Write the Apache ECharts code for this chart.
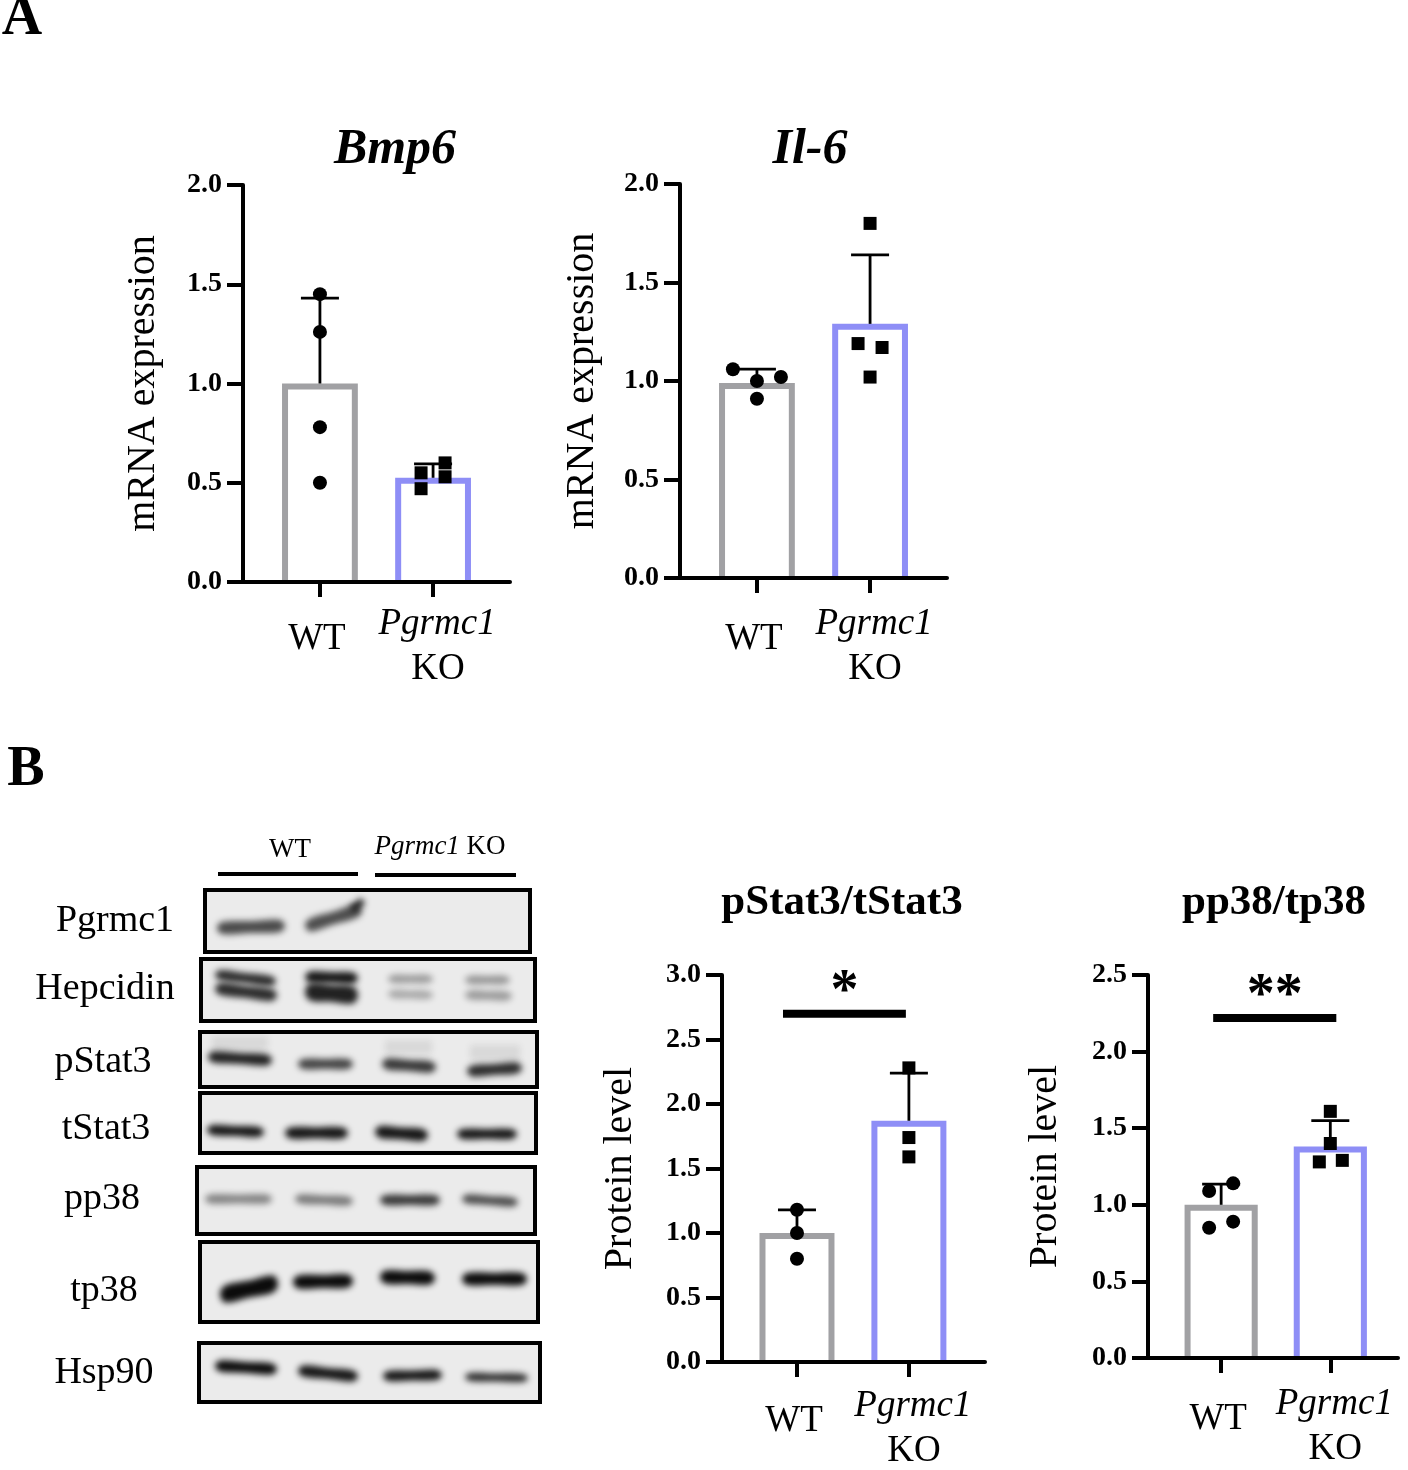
<!DOCTYPE html>
<html><head><meta charset="utf-8">
<script src="https://cdn.jsdelivr.net/npm/echarts@6/dist/echarts.min.js"></script>
<style>html,body{margin:0;padding:0;background:#fff}#c{width:1408px;height:1470px}</style>
</head><body><div id="c"></div><script>
// ---------------- data ----------------
const groups = ['WT', 'Pgrmc1 KO'];
const groupPos = [0, 1];

const bmp6WT = [1.45, 1.26, 0.78, 0.50];
const bmp6KO = [0.55, 0.47, 0.60, 0.53];
const bmp6Mean = [1.00, 0.525];
const bmp6ErrTop = [1.43, 0.595];

const il6WT = [1.06, 1.00, 1.02, 0.91];
const il6KO = [1.80, 1.19, 1.17, 1.02];
const il6Mean = [0.99, 1.29];
const il6ErrTop = [1.06, 1.64];

const pstatWT = [1.18, 1.00, 0.80];
const pstatKO = [2.28, 1.74, 1.59];
const pstatMean = [1.00, 1.87];
const pstatErrTop = [1.18, 2.24];

const pp38WT = [1.09, 1.14, 0.85, 0.89];
const pp38KO = [1.61, 1.40, 1.28, 1.29];
const pp38Mean = [1.00, 1.38];
const pp38ErrTop = [1.135, 1.55];

const pstatSig = [-0.125, 0.973, 2.70];
const pp38Sig = [-0.073, 1.055, 2.22];
const pstatSigLabel = '*';
const pp38SigLabel = '**';

const yTicks2 = 2.0, yTicks3 = 3.0, yTicks25 = 2.5, yInterval = 0.5;

// ---------------- styles / layout ----------------
const FONT = "'Liberation Serif','Times New Roman',Times,serif";
const barColors = ['#a1a1a4', '#8e8ef6'];
const BAR_W = 0.67;

// point jitter (pixels), presentation only
const jBmp6WT = [0, 0, 0, 0], jBmp6KO = [-12, -12, 12, 12];
const jIl6WT = [-24, 0, 24, 0], jIl6KO = [0, -12, 12, 0];
const jPstatWT = [0, 0, 0], jPstatKO = [0, 0, 0];
const jPp38WT = [-12, 12, -12, 12], jPp38KO = [0, 0, -11, 12];

const panels = [
  {L:243, R:510, T:185, B:582, xMin:-0.68, xMax:1.68, yMax:yTicks2, yName:'mRNA expression', wt:bmp6WT, ko:bmp6KO, mean:bmp6Mean, err:bmp6ErrTop, jw:jBmp6WT, jk:jBmp6KO, lm:20, nameGap:80},
  {L:680, R:947, T:184, B:578, xMin:-0.68, xMax:1.68, yMax:yTicks2, yName:'mRNA expression', wt:il6WT, ko:il6KO, mean:il6Mean, err:il6ErrTop, jw:jIl6WT, jk:jIl6KO, lm:24, nameGap:78},
  {L:722, R:985, T:975, B:1367, xMin:-0.67, xMax:1.68, yMax:yTicks3, yName:'Protein level', wt:pstatWT, ko:pstatKO, mean:pstatMean, err:pstatErrTop, jw:jPstatWT, jk:jPstatKO, lm:22, nameGap:82, sig:pstatSig, sigLabel:pstatSigLabel},
  {L:1148, R:1398, T:975, B:1358, xMin:-0.67, xMax:1.62, yMax:yTicks25, yName:'Protein level', wt:pp38WT, ko:pp38KO, mean:pp38Mean, err:pp38ErrTop, jw:jPp38WT, jk:jPp38KO, lm:24, nameGap:83, sig:pp38Sig, sigLabel:pp38SigLabel}
];

const titles = [
  {text:'Bmp6', x:395, y:150, italic:true, size:50},
  {text:'Il-6', x:810, y:150, italic:true, size:50},
  {text:'pStat3/tStat3', x:842, y:903, italic:false, size:43},
  {text:'pp38/tp38', x:1274, y:903, italic:false, size:43}
];

// western blot drawing (image panel, layout only)
const blotRows = [
  {name:'Pgrmc1', lx:115, ly:921, box:[205,890,530,952], bands:[[217,285,928,926,12,0.72],[305,362,925,911,13,0.7],[350,365,907,903,9,0.9]]},
  {name:'Hepcidin', lx:105, ly:989, box:[201,959,535,1021], bands:[[215,276,975,981,10,0.85],[215,277,989,995,12,0.85],[305,358,977,978,11,0.95],[305,358,992,995,17,0.9],[388,433,979,979,8,0.35],[388,433,994,995,8,0.3],[465,510,980,980,8,0.38],[465,512,995,996,9,0.35]]},
  {name:'pStat3', lx:103, ly:1062, box:[200,1032,537,1087], bands:[[208,272,1057,1060,11,0.9],[298,353,1064,1064,10,0.75],[382,436,1064,1067,11,0.8],[467,522,1071,1068,11,0.85]], haze:[[212,268,1036,1050],[385,432,1040,1054],[470,520,1045,1060]]},
  {name:'tStat3', lx:106, ly:1129, box:[200,1093,536,1153], bands:[[207,264,1130,1132,10,0.95],[285,348,1133,1133,11,0.95],[375,428,1132,1135,12,0.95],[457,517,1134,1134,10,0.95]]},
  {name:'pp38', lx:102, ly:1199, box:[197,1167,535,1234], bands:[[205,272,1199,1199,9,0.45],[295,353,1199,1201,9,0.5],[380,440,1200,1200,10,0.8],[462,518,1199,1202,9,0.7]]},
  {name:'tp38', lx:104, ly:1291, box:[200,1242,538,1322], bands:[[220,278,1294,1284,17,1],[293,353,1282,1281,13,1],[380,435,1277,1278,13,1],[462,527,1279,1279,12,1]]},
  {name:'Hsp90', lx:104, ly:1373, box:[199,1343,540,1402], bands:[[215,277,1366,1369,11,1],[298,358,1371,1376,11,0.95],[383,442,1376,1375,10,0.95],[465,528,1377,1378,8,0.85]]}
];

// ---------------- build option ----------------
const grid = [], xAxis = [], yAxis = [], series = [];
panels.forEach((p, i) => {
  grid.push({left:p.L, top:p.T, width:p.R - p.L, height:p.B - p.T, containLabel:false});
  xAxis.push({
    gridIndex:i, type:'value', min:p.xMin, max:p.xMax,
    axisLine:{show:true, onZero:false, lineStyle:{color:'#000', width:4}},
    axisTick:{show:true, customValues:groupPos, length:15, lineStyle:{color:'#000', width:4}},
    axisLabel:{
      customValues:groupPos, margin:p.lm, color:'#000', fontFamily:FONT,
      formatter: v => v === 0 ? '{wt|' + groups[0] + '}' : '{it|' + groups[1].split(' ')[0] + '}\n{ko|' + groups[1].split(' ')[1] + '}',
      rich:{
        wt:{fontSize:37, lineHeight:75, fontFamily:FONT, color:'#000', padding:[0, 6, 0, 0]},
        it:{fontSize:37, lineHeight:45, fontFamily:FONT, fontStyle:'italic', color:'#000', padding:[0, 0, 0, 8]},
        ko:{fontSize:37, lineHeight:45, fontFamily:FONT, color:'#000', padding:[0, 0, 0, 10]}
      }
    },
    splitLine:{show:false}
  });
  yAxis.push({
    gridIndex:i, type:'value', min:0, max:p.yMax, interval:yInterval,
    axisLine:{show:true, onZero:false, lineStyle:{color:'#000', width:4}},
    axisTick:{show:true, length:16, lineStyle:{color:'#000', width:4}},
    axisLabel:{formatter:v => v.toFixed(1), fontWeight:'bold', fontSize:28, fontFamily:FONT, color:'#000', margin:21},
    splitLine:{show:false},
    name:p.yName, nameLocation:'middle', nameGap:p.nameGap,
    nameTextStyle:{fontSize:40, fontFamily:FONT, color:'#000'}
  });
  // bars
  series.push({
    type:'custom', xAxisIndex:i, yAxisIndex:i, z:2,
    data: groupPos.map((g, k) => [g, p.mean[k]]),
    renderItem: (params, api) => {
      const x = api.value(0), v = api.value(1), idx = params.dataIndex;
      const base = api.coord([x, 0]), top = api.coord([x, v]);
      const half = api.size([BAR_W, 0])[0] / 2, lw = 6;
      const xl = base[0] - half + lw / 2, xr = base[0] + half - lw / 2;
      const yt = top[1] + lw / 2, yb = base[1] - 2;
      return {type:'group', children:[
        {type:'rect', shape:{x:xl, y:yt, width:xr - xl, height:yb - yt}, style:{fill:'#fff'}},
        {type:'polyline', shape:{points:[[xl, yb], [xl, yt], [xr, yt], [xr, yb]]}, style:{stroke:barColors[idx], lineWidth:lw, fill:null, lineJoin:'miter'}}
      ]};
    }
  });
  // error bars (mean to mean+SD)
  series.push({
    type:'custom', xAxisIndex:i, yAxisIndex:i, z:3,
    data: groupPos.map((g, k) => [g, p.mean[k], p.err[k]]),
    renderItem: (params, api) => {
      const x = api.value(0);
      const a = api.coord([x, api.value(1)]), b = api.coord([x, api.value(2)]);
      const st = {stroke:'#000', lineWidth:2.8};
      return {type:'group', children:[
        {type:'line', shape:{x1:a[0], y1:a[1], x2:b[0], y2:b[1]}, style:st},
        {type:'line', shape:{x1:b[0] - 19, y1:b[1], x2:b[0] + 19, y2:b[1]}, style:st}
      ]};
    }
  });
  // points
  series.push({
    type:'scatter', xAxisIndex:i, yAxisIndex:i, z:4, symbol:'circle', symbolSize:14,
    itemStyle:{color:'#000', opacity:1},
    data: p.wt.map((v, k) => ({value:[groupPos[0], v], symbolOffset:[p.jw[k], 0]}))
  });
  series.push({
    type:'scatter', xAxisIndex:i, yAxisIndex:i, z:4, symbol:'rect', symbolSize:13,
    itemStyle:{color:'#000', opacity:1},
    data: p.ko.map((v, k) => ({value:[groupPos[1], v], symbolOffset:[p.jk[k], 0]}))
  });
  if (p.sig) {
    const lab = p.sigLabel;
    series.push({
      type:'custom', xAxisIndex:i, yAxisIndex:i, z:3,
      data:[p.sig],
      renderItem: (params, api) => {
        const a = api.coord([api.value(0), api.value(2)]), b = api.coord([api.value(1), api.value(2)]);
        return {type:'group', children:[
          {type:'rect', shape:{x:a[0], y:a[1] - 4, width:b[0] - a[0], height:8}, style:{fill:'#000'}},
          {type:'text', style:{text:lab, x:(a[0] + b[0]) / 2, y:a[1] - 20, fontSize:56, fontWeight:'bold', fontFamily:FONT, fill:'#000', align:'center', verticalAlign:'middle'}}
        ]};
      }
    });
  }
});

// graphics: panel letters, titles, blot
const graphics = [];
const txt = (text, x, y, size, opts) => Object.assign({type:'text', x:x, y:y, z:10,
  style:Object.assign({text:text, fontSize:size, fontFamily:FONT, fill:'#000', align:'center', verticalAlign:'middle', textAlign:'center', textVerticalAlign:'middle'}, opts || {})});
graphics.push(txt('A', 22, 20, 56, {fontWeight:'bold'}));
graphics.push(txt('B', 26, 771, 56, {fontWeight:'bold'}));
titles.forEach(t => graphics.push(txt(t.text, t.x, t.y, t.size, {fontWeight:'bold', fontStyle:t.italic ? 'italic' : 'normal'})));

// blot header
graphics.push(txt('WT', 290, 850, 27));
graphics.push(txt('{i|Pgrmc1} KO', 440, 847, 27, {rich:{i:{fontStyle:'italic', fontSize:27, fontFamily:FONT, fill:'#000'}}}));
graphics.push({type:'rect', z:10, shape:{x:218, y:872, width:140, height:4}, style:{fill:'#000'}});
graphics.push({type:'rect', z:10, shape:{x:375, y:873, width:141, height:4}, style:{fill:'#000'}});

const OFF = 3000;
function bandPts(x1, x2, yl, yr, th) {
  const h = th / 2, xm = (x1 + x2) / 2, ym = (yl + yr) / 2;
  return [[x1, yl], [x1 + 5, yl - h], [xm, ym - h], [x2 - 5, yr - h], [x2, yr], [x2 - 5, yr + h], [xm, ym + h], [x1 + 5, yl + h]];
}
blotRows.forEach(r => {
  const [bx1, by1, bx2, by2] = r.box;
  graphics.push(txt(r.name, r.lx, r.ly, 38));
  graphics.push({type:'rect', z:5, shape:{x:bx1, y:by1, width:bx2 - bx1, height:by2 - by1}, style:{fill:'#ebebeb'}});
  (r.haze || []).forEach(h => {
    graphics.push({type:'rect', z:6, x:-OFF, shape:{x:h[0], y:h[2], width:h[1] - h[0], height:h[3] - h[2]},
      style:{fill:'#000', shadowColor:'rgba(60,60,60,0.10)', shadowBlur:6, shadowOffsetX:OFF}});
  });
  r.bands.forEach(b => {
    graphics.push({type:'polygon', z:7, x:-OFF, shape:{points:bandPts(b[0], b[1], b[2], b[3], b[4]), smooth:0.35},
      style:{fill:'#000', shadowColor:'rgba(12,12,12,' + b[5] + ')', shadowBlur:6, shadowOffsetX:OFF}});
  });
  graphics.push({type:'rect', z:8, shape:{x:bx1, y:by1, width:bx2 - bx1, height:by2 - by1}, style:{fill:null, stroke:'#000', lineWidth:4}});
});

const chart = echarts.init(document.getElementById('c'), null, {renderer:'canvas'});
chart.setOption({
  backgroundColor:'#fff', animation:false,
  grid:grid, xAxis:xAxis, yAxis:yAxis, series:series,
  graphic:{elements:graphics}
});
</script></body></html>
